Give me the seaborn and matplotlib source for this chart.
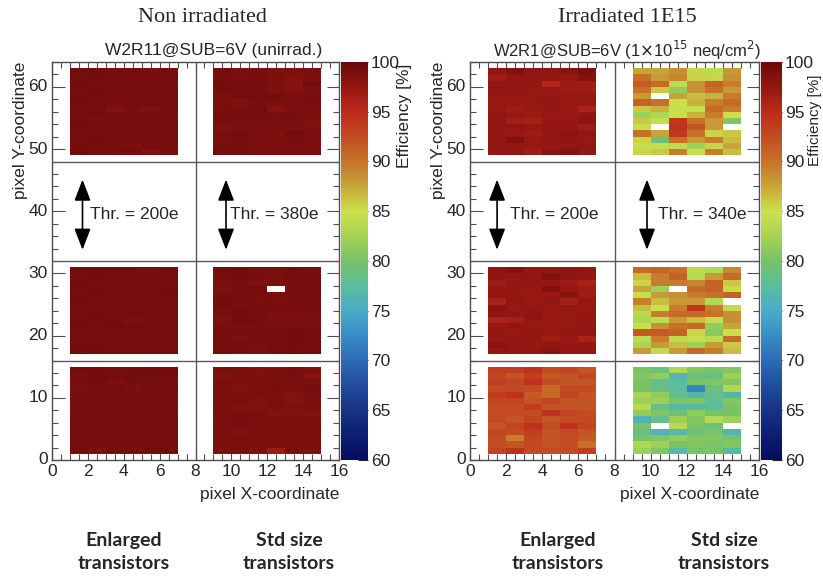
import numpy as np
import matplotlib
matplotlib.use("Agg")
import matplotlib.pyplot as plt
from matplotlib.colors import LinearSegmentedColormap
from matplotlib.ticker import MultipleLocator
import seaborn as sns

nan = np.nan

# Efficiency [%] per pixel; each block is 14 rows (top row first) x 6 columns
# ---------------- unirradiated sample (W2R11) ----------------
unirr_enl_top = [
    [99.4, 99.3, 99.3, 99.3, 99.2, 99.3],
    [99.3, 99.4, 99.3, 99.3, 99.2, 99.3],
    [99.4, 99.3, 99.2, 99.3, 99.3, 99.2],
    [99.3, 99.4, 99.3, 99.2, 99.3, 99.3],
    [99.3, 99.3, 99.3, 99.3, 99.2, 99.3],
    [99.4, 99.3, 99.2, 99.3, 99.3, 99.3],
    [99.3, 99.3, 98.6, 99.2, 98.7, 99.3],
    [99.3, 99.4, 99.3, 99.3, 99.2, 99.2],
    [99.3, 99.2, 99.3, 99.3, 99.3, 99.3],
    [99.4, 99.3, 99.3, 99.2, 99.3, 99.3],
    [99.3, 99.3, 99.3, 99.3, 99.2, 99.3],
    [99.3, 99.4, 99.3, 99.3, 99.3, 99.3],
    [99.3, 99.3, 99.2, 98.8, 99.3, 99.2],
    [99.4, 99.3, 99.3, 99.3, 98.7, 99.3],
]
unirr_std_top = [
    [99.3, 99.0, 99.2, 98.9, 98.8, 99.1],
    [99.2, 99.1, 99.3, 98.9, 98.5, 99.0],
    [99.4, 99.2, 99.3, 98.8, 98.2, 99.3],
    [99.3, 99.3, 99.2, 98.6, 98.5, 99.0],
    [98.9, 99.3, 99.3, 99.3, 98.9, 99.2],
    [99.0, 98.7, 99.2, 99.0, 99.1, 99.1],
    [99.2, 99.2, 99.3, 98.4, 98.9, 98.9],
    [99.3, 99.1, 99.3, 99.2, 99.2, 98.8],
    [99.2, 99.2, 99.2, 99.0, 99.1, 98.7],
    [98.7, 98.8, 98.9, 99.1, 98.9, 98.9],
    [99.0, 99.3, 98.8, 98.9, 99.5, 98.8],
    [98.9, 99.1, 99.2, 98.8, 99.0, 99.1],
    [99.2, 99.3, 99.0, 99.2, 98.9, 98.9],
    [99.3, 99.3, 99.2, 99.0, 99.0, 99.1],
]
unirr_enl_mid = [
    [99.3, 99.3, 99.3, 99.3, 99.1, 99.3],
    [99.3, 99.4, 99.3, 99.3, 99.2, 99.3],
    [99.4, 99.3, 99.2, 99.3, 99.3, 99.3],
    [99.3, 99.3, 99.3, 99.3, 99.3, 99.4],
    [99.3, 99.4, 99.3, 99.2, 99.3, 99.3],
    [99.4, 99.3, 99.3, 99.3, 99.2, 99.3],
    [99.3, 99.3, 99.3, 99.3, 99.3, 99.3],
    [99.3, 99.4, 99.3, 99.3, 99.3, 99.3],
    [99.3, 99.3, 99.3, 98.9, 99.3, 99.3],
    [99.4, 99.3, 99.4, 99.3, 99.3, 99.3],
    [99.3, 99.3, 99.3, 99.3, 99.2, 99.3],
    [99.3, 99.3, 99.3, 99.3, 99.3, 99.3],
    [99.3, 99.4, 99.3, 99.3, 99.3, 99.3],
    [99.4, 99.3, 99.3, 99.3, 99.3, 99.3],
]
unirr_std_mid = [
    [99.4, 99.3, 99.1, 99.2, 99.3, 99.2],
    [99.2, 99.4, 99.1, 99.0, 99.3, 99.2],
    [99.0, 99.3, 98.7, 99.2, 99.2, 99.3],
    [98.8, 99.2, 99.3, nan, 99.1, 99.2],
    [99.3, 99.2, 99.1, 99.0, 99.3, 99.3],
    [99.4, 99.2, 99.0, 99.1, 99.2, 99.1],
    [99.3, 99.3, 99.3, 99.2, 99.3, 99.3],
    [99.2, 99.4, 99.1, 98.9, 99.0, 98.8],
    [98.6, 99.3, 99.3, 99.0, 98.9, 98.9],
    [99.0, 98.9, 99.2, 99.0, 99.1, 99.2],
    [99.3, 99.3, 99.3, 99.3, 99.4, 99.3],
    [99.3, 99.0, 99.2, 99.3, 99.4, 99.2],
    [99.2, 99.3, 99.1, 99.3, 99.3, 99.2],
    [99.3, 99.2, 98.8, 99.3, 99.4, 99.3],
]
unirr_enl_bot = [
    [99.4, 99.4, 99.3, 99.3, 99.4, 99.4],
    [99.1, 99.3, 99.3, 99.4, 99.3, 99.3],
    [99.1, 99.4, 98.9, 99.3, 99.3, 99.2],
    [98.8, 99.3, 99.3, 99.0, 99.3, 99.3],
    [99.2, 99.3, 99.3, 99.3, 99.3, 99.2],
    [99.3, 99.2, 99.3, 99.2, 99.3, 99.3],
    [99.2, 99.3, 99.3, 99.3, 99.3, 99.2],
    [99.3, 99.3, 99.2, 99.3, 99.2, 99.1],
    [99.3, 99.3, 99.3, 99.3, 99.3, 99.3],
    [99.3, 99.2, 99.3, 99.2, 99.3, 99.3],
    [99.3, 99.3, 99.3, 99.3, 99.3, 99.3],
    [99.3, 99.3, 99.3, 99.3, 99.3, 99.3],
    [99.3, 99.3, 99.3, 99.3, 99.2, 99.3],
    [99.3, 98.8, 99.3, 99.3, 99.3, 99.3],
]
unirr_std_bot = [
    [99.0, 99.1, 98.7, 98.9, 99.1, 99.0],
    [98.6, 99.0, 98.9, 99.0, 99.1, 98.2],
    [99.0, 98.9, 99.0, 98.8, 99.0, 99.0],
    [99.0, 98.6, 98.8, 99.1, 98.9, 99.1],
    [98.9, 99.0, 99.0, 98.9, 98.6, 99.0],
    [99.0, 99.1, 98.7, 98.9, 98.4, 98.9],
    [99.1, 98.6, 98.6, 98.8, 98.9, 99.0],
    [99.0, 99.0, 99.0, 98.5, 98.6, 98.5],
    [98.9, 99.1, 98.9, 99.0, 98.9, 99.0],
    [99.0, 99.0, 99.1, 98.9, 98.9, 99.0],
    [98.9, 98.6, 98.9, 99.0, 99.1, 98.9],
    [99.0, 99.1, 98.8, 99.0, 98.8, 99.0],
    [99.0, 99.0, 98.9, 99.0, 99.0, 98.9],
    [98.9, 99.2, 98.9, 97.0, 99.0, 98.9],
]

# ---------------- irradiated sample (W2R1, 1e15 neq/cm2) ----------------
irr_enl_top = [
    [97.5, 98.5, 97.5, 97.5, 98.0, 99.0],
    [96.8, 97.5, 97.5, 97.5, 97.2, 98.5],
    [97.5, 97.5, 97.5, 95.5, 97.0, 96.8],
    [97.5, 97.5, 97.2, 97.2, 97.0, 96.8],
    [97.5, 97.2, 97.5, 97.5, 97.2, 97.2],
    [97.2, 97.2, 97.2, 97.5, 97.2, 97.2],
    [97.2, 96.8, 97.2, 97.5, 97.2, 96.2],
    [97.5, 97.2, 97.0, 97.2, 97.2, 97.5],
    [97.5, 96.6, 96.3, 97.2, 97.2, 98.0],
    [97.2, 97.5, 97.2, 97.5, 97.5, 96.8],
    [97.5, 97.2, 96.8, 97.5, 98.0, 97.5],
    [97.5, 98.5, 97.2, 97.5, 97.5, 97.2],
    [97.5, 97.5, 97.2, 97.2, 97.5, 97.5],
    [97.5, 97.5, 96.8, 98.0, 98.5, 97.5],
]
irr_std_top = [
    [87.5, 87.5, 88.5, 85.5, 84.0, 88.0],
    [90.0, 88.0, 89.0, 85.5, 85.5, 88.5],
    [91.5, 90.5, 84.0, 88.5, 91.0, 89.5],
    [90.0, 86.0, 81.5, 88.5, 90.0, 88.0],
    [88.0, nan, 87.5, 86.5, 87.0, 89.5],
    [91.0, 90.0, 85.0, 87.0, 89.5, 90.5],
    [86.0, 87.0, 84.5, 84.5, 90.5, 89.5],
    [82.0, 83.0, 85.0, 87.0, 89.5, 85.0],
    [86.0, 84.5, 94.0, 90.0, 88.0, 80.5],
    [84.5, nan, 94.5, 92.0, 88.0, nan],
    [90.0, 87.5, 94.0, 90.0, 85.5, 86.0],
    [85.5, 79.0, 90.0, 88.0, 89.5, 86.5],
    [84.5, 84.5, 84.0, 82.0, 85.5, 87.5],
    [85.5, 86.0, 89.5, 84.5, 89.5, 86.5],
]
irr_enl_mid = [
    [98.0, 98.5, 97.5, 97.5, 98.0, 97.5],
    [97.5, 97.5, 97.5, 98.5, 97.5, 97.5],
    [97.0, 97.5, 97.5, 97.2, 97.0, 96.2],
    [97.5, 97.2, 97.2, 98.5, 97.2, 97.0],
    [97.5, 97.5, 97.2, 97.2, 98.0, 96.8],
    [96.2, 97.5, 97.2, 97.5, 96.5, 97.2],
    [98.0, 97.2, 97.5, 97.2, 97.5, 97.2],
    [97.5, 97.5, 97.8, 97.2, 97.2, 97.5],
    [96.0, 96.5, 97.5, 97.2, 97.5, 97.2],
    [97.2, 97.5, 97.2, 97.2, 97.2, 97.5],
    [97.5, 97.2, 97.5, 97.2, 97.5, 97.5],
    [97.2, 97.5, 97.5, 96.8, 97.2, 96.2],
    [98.2, 97.5, 97.2, 97.5, 97.2, 97.5],
    [97.5, 97.5, 97.5, 98.0, 97.5, 97.5],
]
irr_std_mid = [
    [90.5, 91.0, 90.0, 84.0, 83.0, 89.0],
    [86.5, 89.5, 91.0, 83.5, 88.0, 90.5],
    [85.5, 89.5, 89.5, 89.0, 91.0, 86.0],
    [87.5, 82.0, nan, 90.5, 91.0, 84.5],
    [84.5, 88.0, 88.5, 89.5, 90.0, 91.0],
    [89.5, 86.5, 88.0, 88.0, 83.5, nan],
    [86.5, 85.0, 89.5, 94.0, 89.5, 84.0],
    [83.5, 89.5, 90.5, 90.5, 90.0, 88.5],
    [83.0, 84.0, 88.0, 86.5, 84.5, 88.5],
    [85.0, 88.5, 90.0, 90.5, 81.5, 87.5],
    [91.5, 91.5, 91.0, 85.5, 81.0, 85.0],
    [84.0, 89.5, 84.0, 84.5, 84.0, 90.5],
    [82.5, 88.0, 86.5, 82.0, 88.0, 86.0],
    [88.0, 84.0, 88.0, 90.5, 89.5, 86.5],
]
irr_enl_bot = [
    [93.5, 93.5, 94.5, 92.5, 93.0, 92.0],
    [93.0, 92.0, 93.5, 91.5, 92.0, 93.0],
    [93.5, 93.0, 94.5, 92.5, 92.0, 92.0],
    [92.5, 92.5, 92.5, 90.5, 92.5, 92.5],
    [93.5, 94.5, 91.5, 90.5, 93.0, 92.0],
    [93.0, 93.0, 92.0, 93.0, 92.0, 92.0],
    [92.5, 92.5, 93.5, 92.0, 92.0, 92.0],
    [92.5, 92.5, 92.5, 94.5, 93.0, 92.5],
    [92.5, 92.0, 93.0, 92.0, 92.5, 92.5],
    [92.0, 93.0, 94.5, 92.5, 94.5, 93.0],
    [93.0, 92.5, 93.5, 92.0, 92.5, 92.0],
    [92.5, 89.5, 93.0, 92.0, 92.5, 91.5],
    [92.5, 92.0, 92.5, 92.0, 92.5, 90.0],
    [93.0, 94.5, 92.5, 92.5, 92.5, 93.5],
]
irr_std_bot = [
    [80.0, 79.0, 83.0, 80.5, 80.0, 80.5],
    [80.5, 81.5, 76.5, 79.0, 78.5, 82.0],
    [80.0, 78.0, 77.5, 80.0, 80.5, 80.5],
    [80.0, 78.5, 77.5, 72.0, 79.0, 83.0],
    [82.5, 81.5, 78.0, 76.5, 78.5, 76.5],
    [82.0, 82.0, 80.0, 80.5, 78.0, 80.5],
    [83.5, 78.5, 77.0, 77.0, 77.5, 80.0],
    [81.5, 80.5, 79.5, 81.5, 80.0, 80.0],
    [76.0, 78.5, 82.0, 80.5, 83.5, 82.0],
    [80.0, nan, 83.5, 80.0, 79.0, nan],
    [78.5, 76.0, 77.0, 79.0, 80.0, 76.5],
    [80.0, 80.5, 81.5, 80.5, 80.5, 80.0],
    [83.0, 82.0, 80.0, 80.5, 80.0, 80.5],
    [82.0, 80.5, 77.0, 80.0, 80.0, 77.0],
]

x_ticks = [0, 2, 4, 6, 8, 10, 12, 14, 16]
y_ticks = [0, 10, 20, 30, 40, 50, 60]
cbar_ticks = [60, 65, 70, 75, 80, 85, 90, 95, 100]

# colour scale for the efficiency (60 -> 100 %)
cmap_levels = [60, 62.5, 65, 67.5, 70, 72.5, 75, 77.5, 80, 82.5, 85,
               87.5, 90, 92.5, 95, 97.5, 100]
cmap_colors = [
    (0.02, 0.05, 0.38), (0.05, 0.12, 0.45), (0.09, 0.20, 0.52),
    (0.13, 0.30, 0.62), (0.18, 0.42, 0.72), (0.22, 0.55, 0.78),
    (0.28, 0.68, 0.78), (0.35, 0.74, 0.62), (0.47, 0.76, 0.40),
    (0.65, 0.83, 0.33), (0.80, 0.88, 0.30), (0.78, 0.65, 0.22),
    (0.78, 0.45, 0.16), (0.76, 0.30, 0.13), (0.74, 0.17, 0.11),
    (0.58, 0.09, 0.07), (0.42, 0.04, 0.04),
]
eff_cmap = LinearSegmentedColormap.from_list(
    "eff", [((v - 60) / 40, c) for v, c in zip(cmap_levels, cmap_colors)], N=256)

sns.set_style("white")
plt.rcParams["font.family"] = ["Liberation Sans", "DejaVu Sans"]

W, H = 823, 576
fig = plt.figure(figsize=(W / 100, H / 100), dpi=100)


def box(x0, y0, w, h):
    return [x0 / W, 1 - (y0 + h) / H, w / W, h / H]


def pixel_map(blocks):
    """Place 14x6 blocks onto a 64 x 16 pixel map (row index = y)."""
    grid = np.full((64, 16), np.nan)
    for (ylo, xlo), vals in blocks.items():
        grid[ylo:ylo + 14, xlo:xlo + 6] = np.flipud(np.array(vals, dtype=float))
    return grid


panels = [
    dict(ax=box(52, 62, 287, 398), cax=box(341, 62, 27, 398),
         blocks={(49, 1): unirr_enl_top, (49, 9): unirr_std_top,
                 (17, 1): unirr_enl_mid, (17, 9): unirr_std_mid,
                 (1, 1): unirr_enl_bot, (1, 9): unirr_std_bot},
         thr=[(1.7, 2.1, "Thr. = 200e"), (9.7, 9.95, "Thr. = 380e")]),
    dict(ax=box(470, 62, 289, 398), cax=box(761, 62, 21, 398),
         blocks={(49, 1): irr_enl_top, (49, 9): irr_std_top,
                 (17, 1): irr_enl_mid, (17, 9): irr_std_mid,
                 (1, 1): irr_enl_bot, (1, 9): irr_std_bot},
         thr=[(1.5, 2.2, "Thr. = 200e"), (9.8, 10.4, "Thr. = 340e")]),
]

FS = 12.5
for p in panels:
    ax = fig.add_axes(p["ax"])
    cax = fig.add_axes(p["cax"])
    grid = pixel_map(p["blocks"])
    sns.heatmap(grid, ax=ax, cmap=eff_cmap, vmin=60, vmax=100, cbar_ax=cax,
                mask=np.isnan(grid), linewidths=0)
    ax.set_xlim(0, 16)
    ax.set_ylim(0, 64)
    for s in ax.spines.values():
        s.set_visible(True)
        s.set_color("0.3")
        s.set_linewidth(1.0)
    ax.set_xticks(x_ticks)
    ax.set_xticklabels([str(t) for t in x_ticks], rotation=0, fontsize=FS)
    ax.set_yticks(y_ticks)
    ax.set_yticklabels([str(t) for t in y_ticks], rotation=0, fontsize=FS)
    ax.xaxis.set_minor_locator(MultipleLocator(0.5))
    ax.yaxis.set_minor_locator(MultipleLocator(2))
    ax.tick_params(which="both", direction="in", top=True, right=True,
                   bottom=True, left=True, color="0.3", width=0.8)
    ax.tick_params(which="major", length=9, pad=3)
    ax.tick_params(which="minor", length=4.5)
    ax.set_xlabel("")
    ax.set_ylabel("")

    # module boundaries
    ax.axvline(8, color="0.35", lw=1.0)
    for yb in (16, 32, 48):
        ax.axhline(yb, color="0.35", lw=1.0)

    # threshold annotations
    for xa, xt, label in p["thr"]:
        ax.annotate("", xy=(xa, 45.1), xytext=(xa, 33.8),
                    arrowprops=dict(arrowstyle="<|-|>,head_length=1.3,head_width=0.5",
                                    mutation_scale=10, color="black", lw=1.2,
                                    shrinkA=0, shrinkB=0))
        ax.text(xt, 39.4, label, va="center", ha="left", fontsize=FS)

    cb = ax.collections[0].colorbar
    cb.outline.set_visible(False)
    cb.set_ticks(cbar_ticks)
    cb.set_ticklabels([str(t) for t in cbar_ticks])
    cax.tick_params(direction="in", length=7, width=0.8, color="0.15",
                    labelsize=FS, pad=2, right=True)

# titles
fig.text(202 / W, 1 - 18 / H, "Non irradiated", ha="center", va="center",
         fontsize=16, family=["Liberation Serif"])
fig.text(627 / W, 1 - 18 / H, "Irradiated 1E15", ha="center", va="center",
         fontsize=16, family=["Liberation Serif"])
fig.text(214 / W, 1 - 50 / H, "W2R11@SUB=6V (unirrad.)", ha="center",
         va="center", fontsize=FS)
fig.text(627 / W, 1 - 50 / H, r"W2R1@SUB=6V (1$\times$10$^{15}$ neq/cm$^{2}$)",
         ha="center", va="center", fontsize=12)

# axis titles
for xr, xy_lab, xc_bar, top_bar, fs_bar in ((339, 21, 404, 64, FS),
                                            (759, 439, 815, 74, 11)):
    fig.text(xr / W, 1 - 495 / H, "pixel X-coordinate", ha="right",
             va="center", fontsize=FS)
    fig.text(xy_lab / W, 1 - 62 / H, "pixel Y-coordinate", ha="center",
             va="top", rotation=90, fontsize=FS)
    fig.text(xc_bar / W, 1 - top_bar / H, "Efficiency [%]", ha="center",
             va="top", rotation=90, fontsize=fs_bar)

# transistor flavour captions
for xc, label in ((124, "Enlarged\ntransistors"), (289, "Std size\ntransistors"),
                  (558, "Enlarged\ntransistors"), (724, "Std size\ntransistors")):
    fig.text(xc / W, 1 - 552 / H, label, ha="center", va="center",
             fontsize=14, fontweight="bold", family=["Lato"], linespacing=1.4)

fig.savefig("out.png", dpi=100)
